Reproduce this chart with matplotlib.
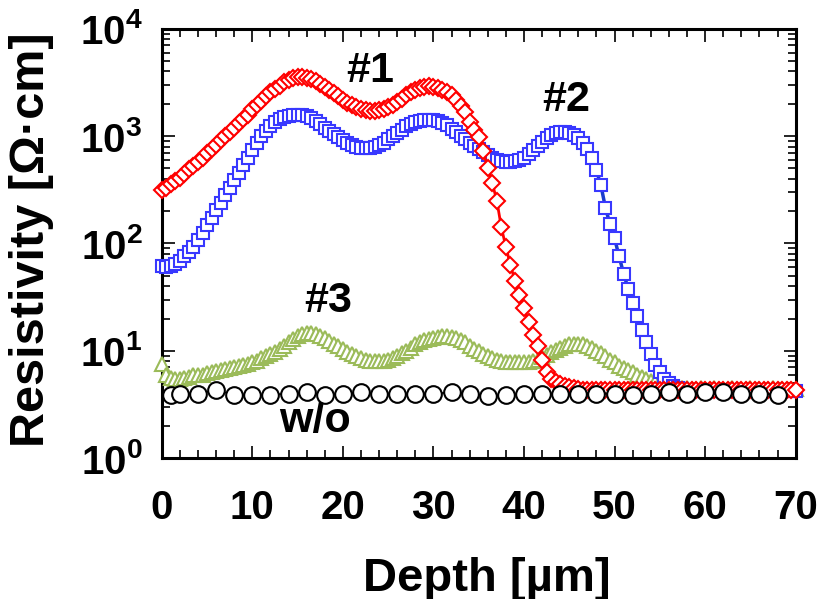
import numpy as np
import matplotlib
matplotlib.use("Agg")
import matplotlib.pyplot as plt
from matplotlib.ticker import MultipleLocator, LogLocator, NullFormatter

plt.rcParams['font.family'] = ['Liberation Sans', 'DejaVu Sans']
plt.rcParams['font.weight'] = 'bold'
plt.rcParams['mathtext.fontset'] = 'custom'
plt.rcParams['mathtext.rm'] = 'Liberation Sans:bold'
plt.rcParams['mathtext.it'] = 'Liberation Sans:bold'
plt.rcParams['mathtext.bf'] = 'Liberation Sans:bold'

# ---------------- data ----------------
depth = np.arange(0, 70.25, 0.5)   # µm, 141 points

rho_1 = [316, 331, 355, 380, 407, 447, 490, 525, 575, 631,
         692, 759, 832, 912, 1000, 1096, 1202, 1318, 1445, 1585,
         1778, 1950, 2138, 2344, 2570, 2754, 2951, 3162, 3311, 3467,
         3548, 3548, 3467, 3388, 3236, 3090, 2884, 2692, 2512, 2344,
         2188, 2042, 1950, 1862, 1778, 1738, 1698, 1698, 1738, 1778,
         1862, 1950, 2089, 2239, 2399, 2570, 2692, 2818, 2884, 2951,
         2884, 2818, 2692, 2570, 2399, 2188, 1905, 1660, 1349, 1148,
         977, 724, 501, 363, 251, 141, 93, 63, 45, 33,
         25, 18.6, 14.1, 11.2, 8.3, 6.3, 5.5, 5.1, 4.9, 4.7,
         4.6, 4.5, 4.4, 4.3, 4.3, 4.3, 4.3, 4.3, 4.3, 4.3,
         4.3, 4.3, 4.3, 4.3, 4.3, 4.3, 4.3, 4.3, 4.3, 4.3,
         4.3, 4.3, 4.3, 4.3, 4.3, 4.3, 4.3, 4.3, 4.3, 4.3,
         4.3, 4.3, 4.3, 4.3, 4.3, 4.3, 4.3, 4.3, 4.3, 4.3,
         4.3, 4.3, 4.3, 4.3, 4.3, 4.3, 4.3, 4.3, 4.3, 4.3,
         4.3]

rho_2 = [61.7, 60.3, 61.7, 64.6, 69.2, 75.9, 83.2, 93.3, 107, 126,
         148, 174, 204, 240, 282, 331, 389, 457, 537, 631,
         741, 871, 1000, 1122, 1230, 1349, 1445, 1514, 1549, 1585,
         1585, 1585, 1549, 1479, 1380, 1288, 1202, 1122, 1047, 977,
         912, 871, 832, 794, 776, 776, 776, 794, 832, 871,
         933, 1000, 1072, 1148, 1230, 1288, 1349, 1380, 1413, 1413,
         1413, 1380, 1318, 1259, 1175, 1096, 1000, 933, 871, 813,
         759, 708, 661, 631, 603, 589, 575, 575, 589, 603,
         631, 676, 741, 813, 891, 955, 1023, 1072, 1096, 1096,
         1072, 1023, 955, 871, 759, 631, 479, 347, 214, 151,
         112, 75.9, 52.5, 38.0, 28.2, 20.9, 15.8, 12.0, 9.3, 7.4,
         6.3, 5.5, 5.0, 4.7, 4.5, 4.4, 4.3, 4.2, 4.2, 4.2,
         4.2, 4.2, 4.2, 4.2, 4.2, 4.2, 4.2, 4.2, 4.2, 4.2,
         4.2, 4.2, 4.2, 4.2, 4.2, 4.2, 4.2, 4.2, 4.2, 4.2,
         4.2]

rho_3 = [7.6, 6.0, 5.6, 5.5, 5.5, 5.6, 5.75, 5.9, 5.9, 6.0,
         6.2, 6.3, 6.5, 6.6, 6.8, 6.9, 7.1, 7.2, 7.4, 7.6,
         7.8, 8.1, 8.5, 8.9, 9.3, 9.8, 10.5, 11.2, 12.0, 12.9,
         13.8, 14.5, 14.8, 14.8, 14.5, 13.8, 13.2, 12.3, 11.7, 11.0,
         10.5, 9.8, 9.3, 8.9, 8.5, 8.3, 8.1, 8.1, 8.1, 8.1,
         8.3, 8.5, 8.9, 9.5, 10.0, 10.7, 11.5, 12.0, 12.6, 12.9,
         13.2, 13.5, 13.8, 13.8, 13.5, 13.2, 12.6, 12.0, 11.2, 10.5,
         10.0, 9.3, 8.9, 8.5, 8.3, 8.1, 7.9, 7.8, 7.8, 7.8,
         7.8, 7.9, 8.1, 8.3, 8.7, 9.1, 9.8, 10.2, 10.7, 11.2,
         11.5, 11.7, 11.7, 11.5, 11.2, 10.7, 10.0, 9.5, 8.9, 8.3,
         7.8, 7.2, 6.9, 6.6, 6.3, 6.0, 5.75, 5.5, 5.2, 5.1,
         5.0, 4.9, 4.8, 4.7, 4.6, 4.5, 4.5, 4.4, 4.4, 4.5,
         4.4, 4.4, 4.5, 4.4, 4.4, 4.4, 4.5, 4.4, 4.4, 4.4,
         4.5, 4.4, 4.4, 4.4, 4.4, 4.5, 4.4, 4.4, 4.4, 4.4,
         4.4]

depth_wo = [1, 2, 4, 6, 8, 10, 12, 14, 16, 18, 20, 22, 24, 26, 28, 30, 32, 34,
            36, 38, 40, 42, 44, 46, 48, 50, 52, 54, 56, 58, 60, 62, 64, 66, 68]
rho_wo = [3.9, 4.0, 4.0, 4.3, 3.9, 3.85, 3.9, 4.0, 4.1, 3.9, 4.0, 4.1, 4.0, 4.0,
          4.0, 4.0, 4.1, 4.0, 3.8, 3.9, 4.0, 4.0, 4.0, 4.0, 4.0, 4.0, 3.9, 4.0,
          4.1, 4.0, 4.1, 4.1, 4.0, 4.0, 3.9]

ytick_vals = [1, 10, 100, 1000, 10000]
ytick_labels = [r'$10^{0}$', r'$10^{1}$', r'$10^{2}$', r'$10^{3}$', r'$10^{4}$']
xtick_vals = [0, 10, 20, 30, 40, 50, 60, 70]

# ---------------- figure ----------------
fig = plt.figure(figsize=(8.34, 5.99), dpi=100)
ax = fig.add_axes([0.194, 0.235, 0.760, 0.717])

red = '#ff0000'
blue = '#3838ff'
green = '#9bbb59'

ax.plot(depth, rho_3, color=green, lw=1.5, marker='^', ms=9.4, mfc='white',
        mec=green, mew=1.5, zorder=3, clip_on=False)
ax.plot(depth, rho_2, color='#1a3ccc', lw=2.5, marker='s', ms=9.0, mfc='white',
        mec=blue, mew=1.5, zorder=4, clip_on=False)
ax.plot(depth, rho_1, color=red, lw=2, marker='D', ms=8.0, mfc='white',
        mec=red, mew=1.5, zorder=5, clip_on=False)
ax.plot(depth_wo, rho_wo, color='black', lw=1.2, marker='o', ms=12, mfc='white',
        mec='black', mew=1.5, zorder=6, clip_on=False)

ax.set_yscale('log')
ax.set_xlim(0, 70)
ax.set_ylim(1, 10000)

ax.set_xticks(xtick_vals)
ax.set_xticklabels([str(v) for v in xtick_vals])
ax.xaxis.set_minor_locator(MultipleLocator(2))
ax.set_yticks(ytick_vals)
ax.set_yticklabels(ytick_labels)
ax.yaxis.set_minor_locator(LogLocator(base=10, subs=np.arange(2, 10)))
ax.yaxis.set_minor_formatter(NullFormatter())

ax.tick_params(which='both', direction='in', top=True, right=True, width=1.2)
ax.tick_params(which='major', length=9)
ax.tick_params(which='minor', length=6)
ax.tick_params(axis='x', which='major', labelsize=29, pad=22)
ax.tick_params(axis='y', which='major', labelsize=29, pad=14)
for lab in ax.get_xticklabels() + ax.get_yticklabels():
    lab.set_fontweight('bold')

for sp in ax.spines.values():
    sp.set_linewidth(2.2)

ax.set_xlabel('Depth [µm]', fontsize=34, fontweight='bold', va='baseline')
ax.set_ylabel('Resistivity [Ω·cm]', fontsize=35, fontweight='bold', va='center')
ax.xaxis.set_label_coords(0.513, -0.308)
ax.yaxis.set_label_coords(-0.205, 0.508)

ax.text(23, 4000, '#1', fontsize=31, fontweight='bold', ha='center', va='center')
ax.text(44.7, 2180, '#2', fontsize=31, fontweight='bold', ha='center', va='center')
ax.text(18.4, 29, '#3', fontsize=31, fontweight='bold', ha='center', va='center')
ax.text(16.9, 2.2, 'w/o', fontsize=31, fontweight='bold', ha='center', va='center')

fig.savefig('out.png', dpi=100)
